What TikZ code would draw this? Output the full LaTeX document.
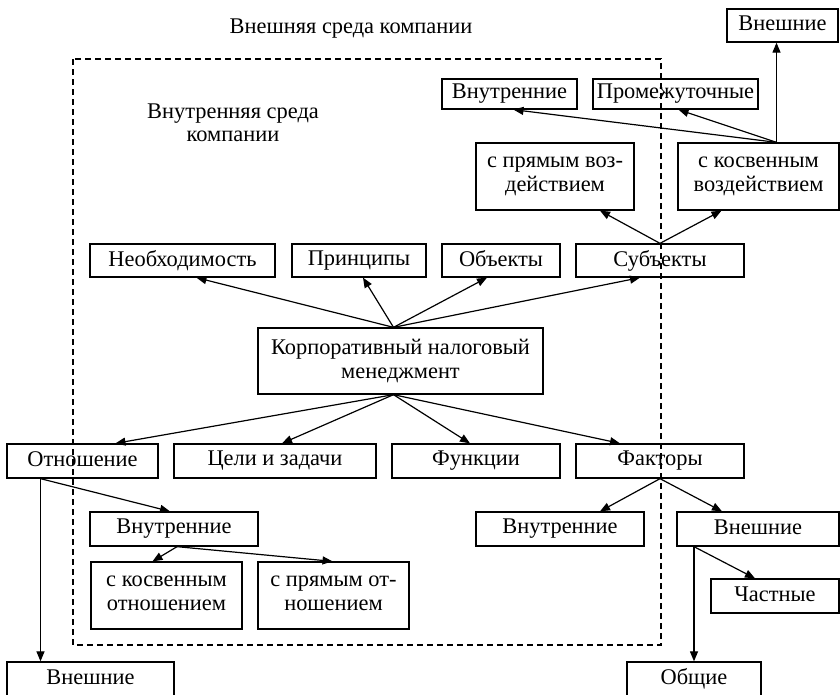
\documentclass[tikz,border=0pt]{standalone}
\usepackage{fontspec}
\setmainfont{Liberation Serif}
\usetikzlibrary{arrows.meta,calc}

% box given by its corners (x1,y1) and (x2,y2), in pixel-like units
\newcommand\mkbox[6]{%
  \node[box, minimum width={(#4-#2)*1pt}, minimum height={(#5-#3)*1pt}]
    (#1) at ({(#2+#4)/2},{(#3+#5)/2}) {#6};}
% invisible strut that keeps capitals centred in the boxes
\newcommand\capstrut{\rule[-4pt]{0pt}{18.6pt}}

\begin{document}
\begin{tikzpicture}[x=1pt,y=-1pt,
  box/.style={draw, line width=1.3pt, inner sep=0pt, align=center,
    font=\fontsize{22.4}{24}\selectfont,
    execute at begin node=\capstrut, execute at end node=\capstrut},
  lbl/.style={inner sep=0pt, align=center, font=\fontsize{22.4}{23}\selectfont},
  arr/.style={line width=1.2pt, -{Triangle[length=10pt,width=8pt]}},
  frame/.style={line width=1.2pt, dash pattern=on 6pt off 4pt}]

\useasboundingbox (0,0) rectangle (840,694);

% inner environment boundary
\draw[frame] (73,59) rectangle (661,645);

\node[lbl, anchor=base] (outer) at (351,33) {Внешняя среда компании};
\node[lbl] (inner) at (233,123) {Внутренняя среда\\компании};

% top part: subjects and their kinds
\mkbox{ext}{727}{9}{838}{42}{Внешние}
\mkbox{intt}{442}{79}{577}{109}{Внутренние}
\mkbox{mid}{593}{79}{758}{109}{Промежуточные}
\mkbox{dir}{476}{143}{634}{210}{с прямым воз-\\действием}
\mkbox{ind}{678}{143}{839}{210}{с косвенным\\воздействием}

\mkbox{need}{90}{244}{275}{277}{Необходимость}
\mkbox{prin}{292}{244}{426}{277}{Принципы}
\mkbox{obj}{442}{244}{560}{277}{Объекты}
\mkbox{subj}{576}{244}{744}{277}{Субъекты}

\mkbox{ctm}{258}{328}{543}{394}{Корпоративный налоговый\\менеджмент}

\mkbox{rel}{7}{444}{158}{478}{Отношение}
\mkbox{goal}{174}{444}{376}{478}{Цели и задачи}
\mkbox{func}{392}{444}{560}{478}{Функции}
\mkbox{fact}{576}{444}{744}{478}{Факторы}

\mkbox{relin}{90}{512}{258}{546}{Внутренние}
\mkbox{relind}{91}{562}{242}{629}{с косвенным\\отношением}
\mkbox{reldir}{258}{562}{409}{629}{с прямым от-\\ношением}
\mkbox{relext}{7}{662}{174}{696}{Внешние}

\mkbox{factin}{476}{512}{644}{546}{Внутренние}
\mkbox{factext}{677}{512}{839}{546}{Внешние}
\mkbox{part}{711}{579}{839}{613}{Частные}
\mkbox{gen}{627}{662}{761}{696}{Общие}

% connectors
\coordinate (indtop) at ([xshift=18]ind.north);
\draw[arr] (indtop) -- (indtop |- ext.south);
\draw[arr] (indtop) -- ([xshift=4]intt.south);
\draw[arr] (indtop) -- ([xshift=3]mid.south);

\draw[arr] (subj.north) -- ([xshift=45]dir.south);
\draw[arr] (subj.north) -- ([xshift=-37]ind.south);

\coordinate (ctmtop) at ([xshift=-7]ctm.north);
\draw[arr] (ctmtop) -- ([xshift=14]need.south);
\draw[arr] (ctmtop) -- ([xshift=4]prin.south);
\draw[arr] (ctmtop) -- ([xshift=-14]obj.south);
\draw[arr] (ctmtop) -- ([xshift=-20]subj.south);

\coordinate (ctmbot) at ([xshift=-7]ctm.south);
\draw[arr] (ctmbot) -- ([xshift=33]rel.north);
\draw[arr] (ctmbot) -- ([xshift=7]goal.north);
\draw[arr] (ctmbot) -- ([xshift=-6]func.north);
\draw[arr] (ctmbot) -- ([xshift=-40]fact.north);

\coordinate (relbot) at ([xshift=-42]rel.south);
\draw[arr] (relbot) -- (relbot |- relext.north);
\draw[arr] (relbot) -- ([xshift=-4]relin.north);

\coordinate (relinbot) at ([xshift=3]relin.south);
\draw[arr] (relinbot) -- ([xshift=-14]relind.north);
\draw[arr] (relinbot) -- ([xshift=-1]reldir.north);

\draw[arr] (fact.south) -- ([xshift=40]factin.north);
\draw[arr] (fact.south) -- ([xshift=-36]factext.north);

\coordinate (extbot) at ([xshift=-64]factext.south);
\draw[arr] (extbot) -- (extbot |- gen.north);
\draw[arr] (extbot) -- ([xshift=-20]part.north);

\end{tikzpicture}
\end{document}
